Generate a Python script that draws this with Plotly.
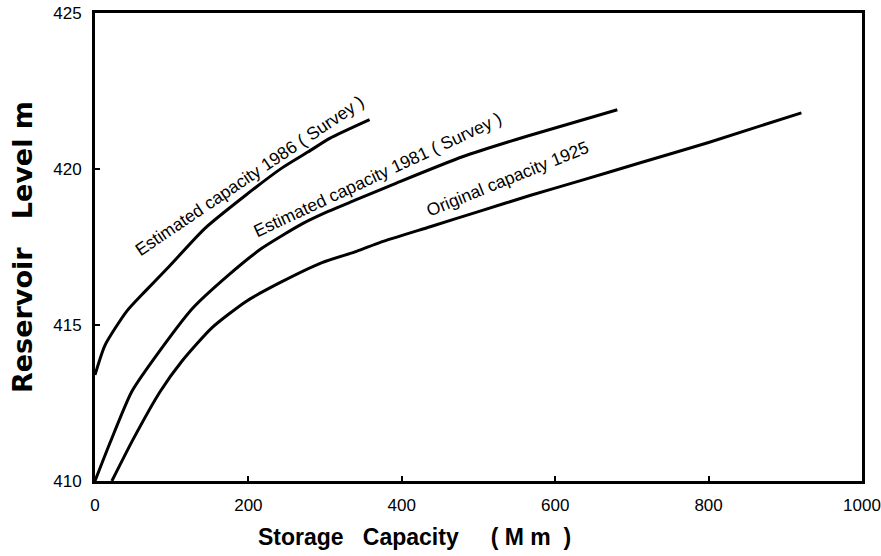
import plotly.graph_objects as go

# Data (storage capacity, reservoir level)
cap_1986 = [0, 13, 41, 65, 96, 143, 196, 243, 278, 306, 358]
lvl_1986 = [413.4, 414.35, 415.43, 416.07, 416.86, 418.09, 419.15, 420.02, 420.55, 420.98, 421.58]

cap_1981 = [0, 20, 48, 87, 127, 174, 217, 270, 304, 339, 393, 480, 563, 681]
lvl_1981 = [410.0, 411.25, 412.87, 414.26, 415.53, 416.6, 417.45, 418.24, 418.64, 419.0, 419.55,
            420.4, 421.05, 421.9]

cap_1925 = [22, 50, 85, 113, 152, 196, 243, 296, 341, 372, 437, 502, 567, 632, 711, 800, 921]
lvl_1925 = [410.0, 411.35, 412.87, 413.83, 414.9, 415.74, 416.38, 417.0, 417.36, 417.65, 418.15,
            418.65, 419.15, 419.62, 420.2, 420.85, 421.8]

x_ticks = [0, 200, 400, 600, 800, 1000]
y_ticks = [410, 415, 420, 425]

FONT = "Liberation Sans, Arial, sans-serif"
NBSP = "\u00a0"

fig = go.Figure()
for xs, ys in [(cap_1986, lvl_1986), (cap_1981, lvl_1981), (cap_1925, lvl_1925)]:
    fig.add_trace(go.Scatter(x=xs, y=ys, mode="lines",
                             line=dict(color="black", width=3, shape="spline", smoothing=0.6),
                             showlegend=False, hoverinfo="skip"))

L, R, T, B = 95, 19, 13, 75
W, H = 881, 556
pw, ph = W - L - R, H - T - B

labels = [
    ("Estimated capacity 1986 ( Survey )", 249, 176, -34),
    ("Estimated capacity 1981 ( Survey )", 377, 175, -25),
    ("Original capacity 1925", 507, 179, -22),
]
for text, px, py, ang in labels:
    fig.add_annotation(text=text.replace(" ", NBSP), xref="paper", yref="paper",
                       x=(px - L) / pw, y=(H - B - py) / ph,
                       xanchor="center", yanchor="middle", showarrow=False,
                       textangle=ang, font=dict(family=FONT, size=17.5, color="black"))

xtitle = "Storage" + NBSP * 3 + "Capacity" + NBSP * 5 + "(" + NBSP + "M" + NBSP + "m" + NBSP * 2 + ")"
fig.add_annotation(text=xtitle, xref="paper", yref="paper",
                   x=(414 - L) / pw, y=(H - B - 537) / ph, xanchor="center", yanchor="middle",
                   showarrow=False, font=dict(family=FONT, size=23, color="black", weight="bold"))
ytitle = "Reservoir" + NBSP * 3 + "Level" + NBSP + "m"
fig.add_annotation(text=ytitle, xref="paper", yref="paper",
                   x=(22 - L) / pw, y=(H - B - 247) / ph, xanchor="center", yanchor="middle",
                   showarrow=False, textangle=-90,
                   font=dict(family="DejaVu Sans, sans-serif", size=27, color="black", weight="bold"))

axis_common = dict(showgrid=False, zeroline=False, showline=True, linecolor="black",
                   linewidth=3, mirror=True, ticks="inside", ticklen=5, tickwidth=2,
                   tickcolor="black", tickfont=dict(family=FONT, size=17, color="black"))
fig.update_xaxes(range=[0, 1000], tickvals=x_ticks, ticktext=[str(v) for v in x_ticks],
                 ticklabelstandoff=7, **axis_common)
fig.update_yaxes(range=[410, 425], tickvals=y_ticks, ticktext=[str(v) for v in y_ticks],
                 ticklabelstandoff=7, **axis_common)

fig.update_layout(width=W, height=H, margin=dict(l=L, r=R, t=T, b=B, autoexpand=False),
                  plot_bgcolor="white", paper_bgcolor="white")
fig.write_html("out.html", config={"displayModeBar": False},
               post_script="document.body.style.margin='0';document.body.style.overflow='hidden';")
